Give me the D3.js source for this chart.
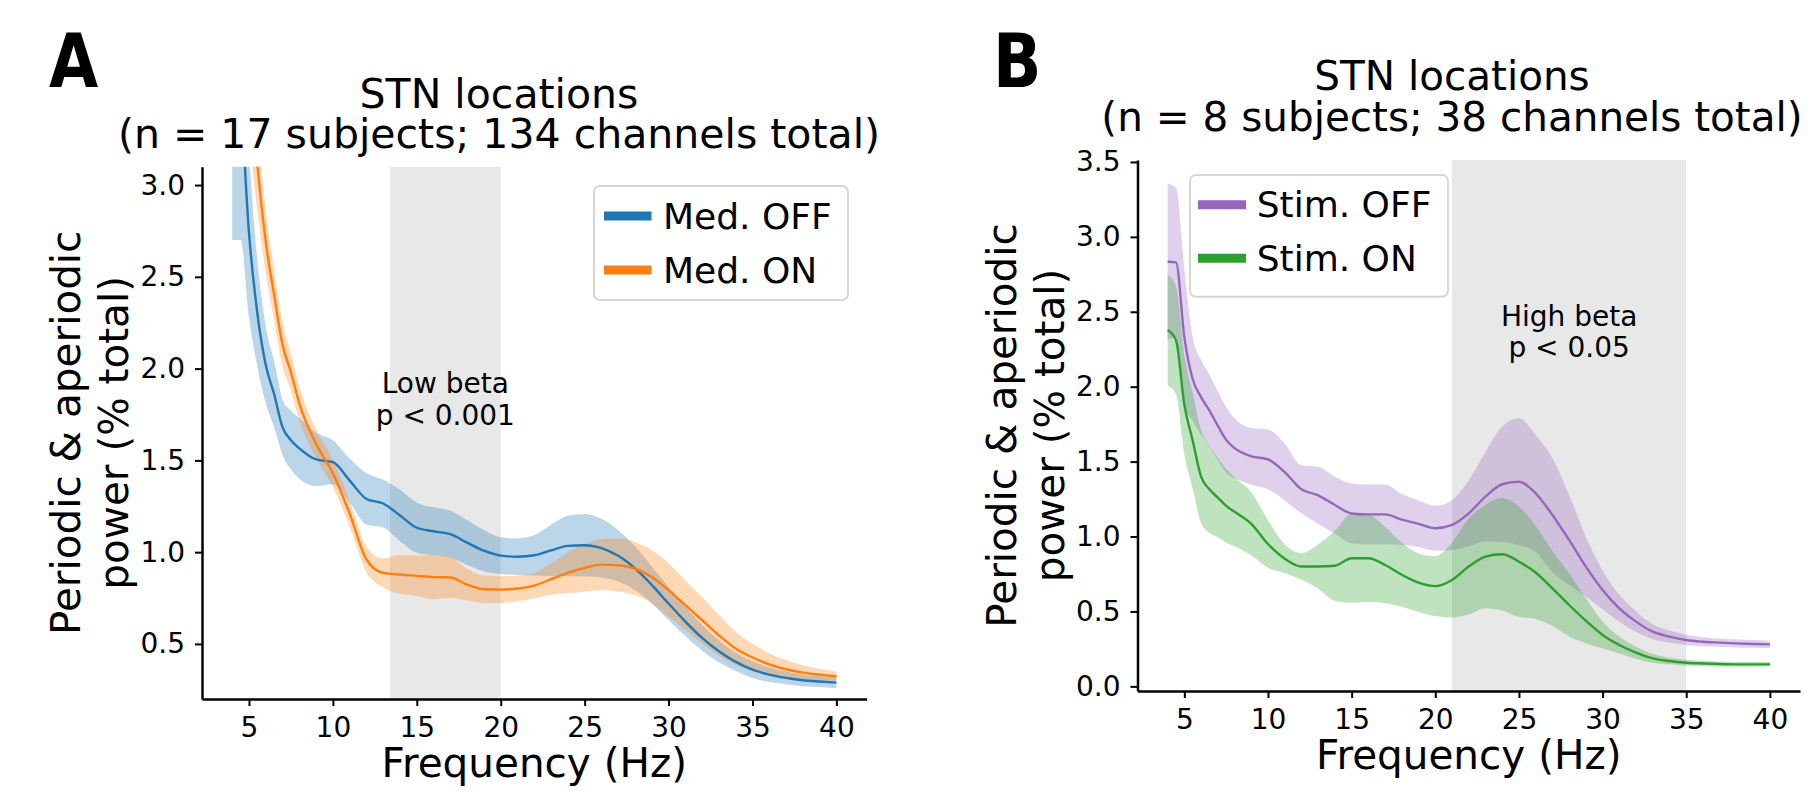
<!DOCTYPE html>
<html>
<head>
<meta charset="utf-8">
<script src="https://cdn.jsdelivr.net/npm/d3@7"></script>
<style>
  html, body { margin: 0; padding: 0; background: #fff; }
  svg { display: block; }
  text { font-family: "DejaVu Sans", sans-serif; fill: #000; }
</style>
</head>
<body>
<svg id="chart" width="1808" height="791"></svg>
<script>
// ---------------- DATA ----------------
const freqs = [4, 4.5, 5, 5.5, 6, 6.5, 7, 7.5, 8, 9, 10, 11, 12, 13, 14, 15, 16, 17, 18, 19, 20,
  21, 22, 23, 24, 25, 26, 27, 28, 29, 30, 31, 32, 33, 34, 35, 36, 37, 38, 39, 40];

// Panel A: Med. OFF / Med. ON
const medOffMean = [3.70, 3.45, 2.74, 2.30, 2.02, 1.86, 1.68, 1.61, 1.565, 1.505, 1.49, 1.39, 1.29, 1.265, 1.20,
  1.133, 1.114, 1.098, 1.052, 1.008, 0.981, 0.975, 0.983, 1.010, 1.034, 1.038, 1.022, 0.980, 0.912, 0.822,
  0.720, 0.622, 0.533, 0.460, 0.402, 0.360, 0.333, 0.315, 0.302, 0.295, 0.289];
const medOffSem = [1.00, 0.75, 0.46, 0.29, 0.21, 0.18, 0.15, 0.16, 0.165, 0.145, 0.12, 0.12, 0.14, 0.13, 0.14,
  0.136, 0.13, 0.127, 0.122, 0.113, 0.10, 0.10, 0.11, 0.14, 0.165, 0.17, 0.16, 0.14, 0.12, 0.10,
  0.09, 0.08, 0.07, 0.06, 0.05, 0.045, 0.04, 0.035, 0.032, 0.03, 0.03];
const medOnMean = [5.00, 4.30, 3.70, 3.11, 2.69, 2.40, 2.13, 1.98, 1.81, 1.59, 1.43, 1.21, 0.96, 0.887, 0.878,
  0.871, 0.864, 0.862, 0.823, 0.798, 0.796, 0.802, 0.818, 0.853, 0.887, 0.914, 0.932, 0.929, 0.911, 0.865,
  0.793, 0.711, 0.629, 0.547, 0.475, 0.426, 0.389, 0.362, 0.344, 0.333, 0.324];
const medOnSem = [0.80, 0.60, 0.45, 0.25, 0.17, 0.14, 0.12, 0.10, 0.09, 0.08, 0.075, 0.07, 0.07, 0.08, 0.105,
  0.11, 0.12, 0.11, 0.085, 0.075, 0.073, 0.07, 0.07, 0.085, 0.11, 0.13, 0.14, 0.145, 0.145, 0.145,
  0.145, 0.135, 0.125, 0.11, 0.09, 0.075, 0.06, 0.05, 0.04, 0.032, 0.025];

// Panel B: Stim. OFF / Stim. ON
const stimOffMean = [2.834, 2.83, 2.33, 2.05, 1.93, 1.84, 1.74, 1.645, 1.59, 1.535, 1.515, 1.43, 1.315, 1.275, 1.21,
  1.154, 1.148, 1.148, 1.113, 1.085, 1.055, 1.077, 1.155, 1.266, 1.349, 1.366, 1.288, 1.144, 0.977, 0.799,
  0.643, 0.521, 0.432, 0.365, 0.332, 0.309, 0.298, 0.292, 0.287, 0.283, 0.280];
const stimOffSem = [0.52, 0.50, 0.45, 0.28, 0.25, 0.24, 0.23, 0.22, 0.20, 0.19, 0.20, 0.19, 0.16, 0.19, 0.19,
  0.20, 0.20, 0.20, 0.17, 0.155, 0.15, 0.167, 0.22, 0.30, 0.385, 0.423, 0.39, 0.38, 0.30, 0.20,
  0.13, 0.09, 0.07, 0.05, 0.04, 0.035, 0.03, 0.028, 0.027, 0.026, 0.025];
const stimOnMean = [2.378, 2.31, 1.88, 1.64, 1.40, 1.315, 1.26, 1.205, 1.165, 1.085, 0.95, 0.852, 0.80, 0.80, 0.805,
  0.855, 0.855, 0.81, 0.745, 0.692, 0.669, 0.71, 0.80, 0.866, 0.882, 0.832, 0.76, 0.654, 0.543, 0.438,
  0.343, 0.276, 0.225, 0.187, 0.169, 0.158, 0.153, 0.149, 0.147, 0.147, 0.147];
const stimOnSem = [0.37, 0.36, 0.33, 0.32, 0.31, 0.29, 0.265, 0.245, 0.23, 0.21, 0.158, 0.096, 0.089, 0.148, 0.233,
  0.297, 0.29, 0.256, 0.213, 0.195, 0.20, 0.25, 0.32, 0.345, 0.375, 0.367, 0.31, 0.25, 0.21, 0.15,
  0.09, 0.056, 0.04, 0.03, 0.022, 0.02, 0.018, 0.017, 0.016, 0.016, 0.015];

const xTicks = [5, 10, 15, 20, 25, 30, 35, 40];
const yTicksA = [0.5, 1.0, 1.5, 2.0, 2.5, 3.0];
const yTicksB = [0.0, 0.5, 1.0, 1.5, 2.0, 2.5, 3.0, 3.5];

const titleA = ["STN locations", "(n = 17 subjects; 134 channels total)"];
const titleB = ["STN locations", "(n = 8 subjects; 38 channels total)"];
const yLabel = ["Periodic & aperiodic", "power (% total)"];
const xLabel = "Frequency (Hz)";
const legendA = ["Med. OFF", "Med. ON"];
const legendB = ["Stim. OFF", "Stim. ON"];
const bandA = [13.4, 20];
const bandB = [21, 35];
const noteA = ["Low beta", "p < 0.001"];
const noteB = ["High beta", "p < 0.05"];

// ---------------- LAYOUT ----------------
const svg = d3.select("#chart");
const FONT = "DejaVu Sans";

const panels = [
  { letter: "A", letterX: 49, title: titleA, titleX: 499, titleY: [107.5, 148], titleSize: 41,
    left: 202, right: 866.6, top: 166.7, bottom: 699, xDomain: [2.2, 41.8], yDomain: [0.2, 3.1],
    yTicks: yTicksA, band: bandA, note: noteA, noteY: [393, 425],
    series: [
      { mean: medOffMean, sem: medOffSem, color: "#1f77b4", label: legendA[0] },
      { mean: medOnMean, sem: medOnSem, color: "#ff7f0e", label: legendA[1] }
    ],
    legend: { x: 594, y: 186, w: 254, h: 114, hx: [604, 651.5], hy: [216, 270], tx: 663, ty: [229.3, 283.3] }
  },
  { letter: "B", letterX: 993, title: titleB, titleX: 1452, titleY: [90, 130.5], titleSize: 40.5,
    left: 1137.5, right: 1800, top: 160, bottom: 691, xDomain: [2.2, 41.8], yDomain: [-0.031, 3.513],
    yTicks: yTicksB, band: bandB, note: noteB, noteY: [326, 357],
    series: [
      { mean: stimOffMean, sem: stimOffSem, color: "#9467bd", label: legendB[0] },
      { mean: stimOnMean, sem: stimOnSem, color: "#2ca02c", label: legendB[1] }
    ],
    legend: { x: 1190, y: 175, w: 258, h: 121.7, hx: [1198, 1246], hy: [204.7, 258.3], tx: 1256.7, ty: [217.3, 271] }
  }
];

panels.forEach((p, pi) => {
  const x = d3.scaleLinear().domain(p.xDomain).range([p.left, p.right]);
  const y = d3.scaleLinear().domain(p.yDomain).range([p.bottom, p.top]);
  const g = svg.append("g");

  const clipId = "clip" + pi;
  svg.append("defs").append("clipPath").attr("id", clipId)
    .append("rect").attr("x", p.left).attr("y", p.top)
    .attr("width", p.right - p.left).attr("height", p.bottom - p.top);

  const plot = g.append("g").attr("clip-path", `url(#${clipId})`);

  // shaded frequency band
  plot.append("rect")
    .attr("x", x(p.band[0])).attr("width", x(p.band[1]) - x(p.band[0]))
    .attr("y", p.top).attr("height", p.bottom - p.top)
    .attr("fill", "#e8e8e8");

  // sem areas
  p.series.forEach(s => {
    const area = d3.area()
      .x((d, i) => x(freqs[i]))
      .y0((d, i) => y(s.mean[i] - s.sem[i]))
      .y1((d, i) => y(s.mean[i] + s.sem[i]))
      .curve(d3.curveMonotoneX);
    plot.append("path").datum(s.mean).attr("d", area)
      .attr("fill", s.color).attr("fill-opacity", 0.3).attr("stroke", "none");
  });
  // mean lines
  p.series.forEach(s => {
    const line = d3.line()
      .x((d, i) => x(freqs[i]))
      .y(d => y(d))
      .curve(d3.curveMonotoneX);
    plot.append("path").datum(s.mean).attr("d", line)
      .attr("fill", "none").attr("stroke", s.color).attr("stroke-width", 2.4);
  });

  // axes
  const xAxis = d3.axisBottom(x).tickValues(xTicks).tickSize(7).tickSizeOuter(0).tickPadding(11)
    .tickFormat(d3.format("d"));
  const gx = g.append("g").attr("transform", `translate(0,${p.bottom})`).call(xAxis);
  const yAxis = d3.axisLeft(y).tickValues(p.yTicks).tickSize(7).tickSizeOuter(0).tickPadding(10)
    .tickFormat(d3.format(".1f"));
  const gy = g.append("g").attr("transform", `translate(${p.left},0)`).call(yAxis);
  [gx, gy].forEach(a => {
    a.select(".domain").attr("stroke", "#000").attr("stroke-width", 2.5);
    a.selectAll(".tick line").attr("stroke", "#000").attr("stroke-width", 2);
    a.selectAll(".tick text").attr("font-family", FONT).attr("font-size", 28).attr("fill", "#000");
  });

  // band annotation
  const cx = x((p.band[0] + p.band[1]) / 2);
  p.note.forEach((t, i) => {
    g.append("text").attr("x", cx).attr("y", p.noteY[i]).attr("text-anchor", "middle")
      .attr("font-size", 28).text(t);
  });

  // axis labels
  g.append("text").attr("x", (p.left + p.right) / 2).attr("y", p.bottom + 78)
    .attr("text-anchor", "middle").attr("font-size", 40.5).text(xLabel);
  const cy = (p.top + p.bottom) / 2;
  [p.left - 122, p.left - 74].forEach((lx, i) => {
    g.append("text").attr("transform", `translate(${lx},${cy}) rotate(-90)`)
      .attr("text-anchor", "middle").attr("font-size", 40.5).text(yLabel[i]);
  });

  // title
  p.title.forEach((t, i) => {
    g.append("text").attr("x", p.titleX).attr("y", p.titleY[i]).attr("text-anchor", "middle")
      .attr("font-size", p.titleSize).text(t);
  });

  // panel letter
  g.append("text").attr("transform", `translate(${p.letterX},87) scale(0.86,1)`)
    .attr("font-size", 74).attr("font-weight", "bold").text(p.letter);

  // legend
  const L = p.legend;
  g.append("rect").attr("x", L.x).attr("y", L.y).attr("width", L.w).attr("height", L.h)
    .attr("rx", 6).attr("fill", "#fff").attr("fill-opacity", 0.8)
    .attr("stroke", "#cccccc").attr("stroke-opacity", 0.8).attr("stroke-width", 2);
  p.series.forEach((s, i) => {
    g.append("line").attr("x1", L.hx[0]).attr("x2", L.hx[1]).attr("y1", L.hy[i]).attr("y2", L.hy[i])
      .attr("stroke", s.color).attr("stroke-width", 9);
    g.append("text").attr("x", L.tx).attr("y", L.ty[i]).attr("font-size", 36).text(s.label);
  });
});
</script>
</body>
</html>
